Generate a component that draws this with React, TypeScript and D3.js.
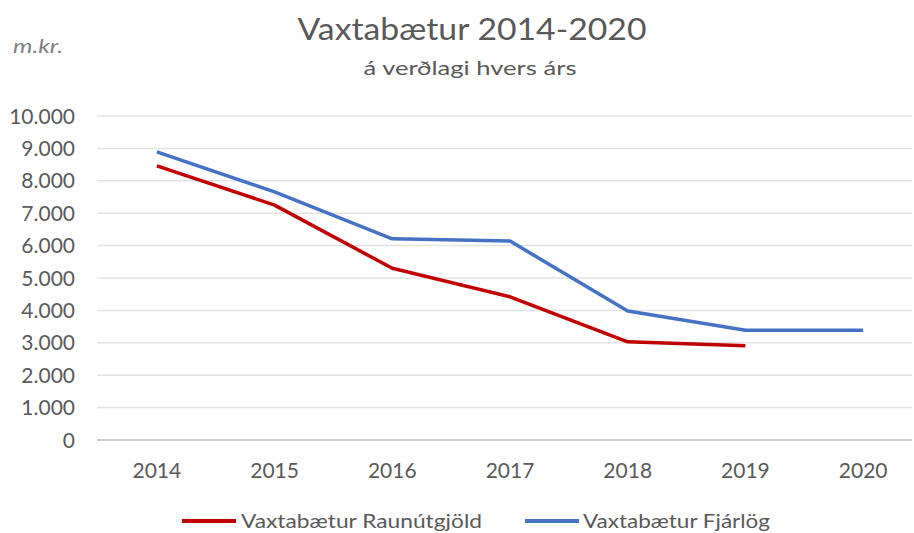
import React from "react";
import * as d3 from "d3";

const years = ["2014", "2015", "2016", "2017", "2018", "2019", "2020"];
const raunutgjold = [8460, 7250, 5300, 4420, 3030, 2910, null];
const fjarlog = [8890, 7660, 6210, 6140, 3980, 3390, 3390];
const yTicks = [0, 1000, 2000, 3000, 4000, 5000, 6000, 7000, 8000, 9000, 10000];
const seriesNames = ["Vaxtabætur Raunútgjöld", "Vaxtabætur Fjárlög"];
const colors = ["#C00000", "#4472C4"];

const W = 914;
const H = 533;
const FONT = "Lato, 'Open Sans', sans-serif";
const TXT = "#595959";

export default function App() {
  const x = d3.scaleBand<string>().domain(years).range([98, 922]).padding(0);
  const y = d3.scaleLinear().domain([0, 10000]).range([440, 116]);
  const cx = (yr: string) => (x(yr) as number) + x.bandwidth() / 2;
  const fmt = (v: number) => d3.format(",")(v).replace(/,/g, ".");

  const line = d3
    .line<number | null>()
    .defined((d) => d !== null)
    .x((_, i) => cx(years[i]))
    .y((d) => y(d as number));

  const series = [raunutgjold, fjarlog];

  return (
    <svg
      width={W}
      height={H}
      style={{ position: "absolute", left: 0, top: 0, background: "#fff" }}
      fontFamily={FONT}
    >
      <rect x={0} y={0} width={W} height={H} fill="#fff" />
      <text x={472} y={40} textAnchor="middle" fontSize={30} fill={TXT} textLength={349} lengthAdjust="spacingAndGlyphs">
        Vaxtabætur 2014-2020
      </text>
      <text x={470} y={75} textAnchor="middle" fontSize={20} fill={TXT} textLength={213} lengthAdjust="spacingAndGlyphs">
        á verðlagi hvers árs
      </text>
      <text x={13} y={53} fontSize={20} fontStyle="italic" fill="#808080" textLength={50} lengthAdjust="spacingAndGlyphs">
        m.kr.
      </text>

      {yTicks.map((t) => (
        <g key={t}>
          <line
            x1={97}
            x2={912}
            y1={y(t)}
            y2={y(t)}
            stroke={t === 0 ? "#BFBFBF" : "#E3E3E3"}
            strokeWidth={1.5}
          />
          <text x={75} y={y(t) + 7.5} textAnchor="end" fontSize={21} fill={TXT}>
            {fmt(t)}
          </text>
        </g>
      ))}

      {years.map((yr) => (
        <text key={yr} x={cx(yr)} y={478} textAnchor="middle" fontSize={21} fill={TXT}>
          {yr}
        </text>
      ))}

      {series.map((s, i) => (
        <path
          key={i}
          d={line(s) || ""}
          fill="none"
          stroke={colors[i]}
          strokeWidth={3.5}
          strokeLinejoin="round"
        />
      ))}

      {[
        { x1: 182, x2: 236, tx: 241, tl: 241 },
        { x1: 525, x2: 579, tx: 583, tl: 187 },
      ].map((l, i) => (
        <g key={i}>
          <line x1={l.x1} x2={l.x2} y1={521} y2={521} stroke={colors[i]} strokeWidth={4} />
          <text x={l.tx} y={528} fontSize={20} fill={TXT} textLength={l.tl} lengthAdjust="spacingAndGlyphs">
            {seriesNames[i]}
          </text>
        </g>
      ))}
    </svg>
  );
}
